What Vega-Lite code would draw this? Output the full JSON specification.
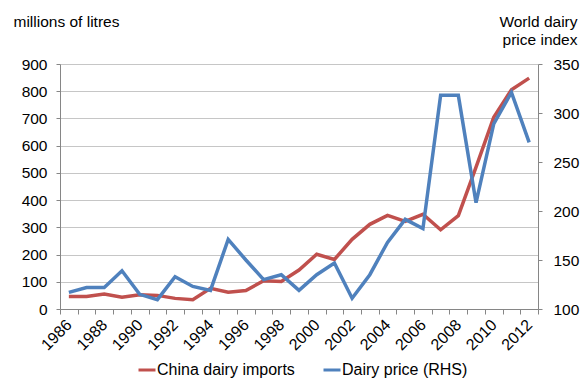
{
  "$schema": "https://vega.github.io/schema/vega-lite/v6.json",
  "width": 478,
  "height": 245,
  "autosize": "none",
  "padding": {"left": 60, "top": 64, "right": 42, "bottom": 69},
  "config": {
    "font": "Liberation Sans",
    "view": {"stroke": null},
    "axis": {"labelFont": "Liberation Sans", "labelFontSize": 15.5, "labelColor": "#000000", "titleFont": "Liberation Sans", "titleColor": "#000000", "titleFontWeight": "normal", "titleFontSize": 15.5, "domainColor": "#868686", "tickColor": "#868686"},
    "legend": {"labelFont": "Liberation Sans", "labelFontSize": 16, "labelColor": "#000000"}
  },
  "data": {
    "values": [
      {"year": 1986, "imports": 46, "price": 117},
      {"year": 1987, "imports": 46, "price": 122},
      {"year": 1988, "imports": 55, "price": 122},
      {"year": 1989, "imports": 43, "price": 139},
      {"year": 1990, "imports": 52, "price": 115},
      {"year": 1991, "imports": 50, "price": 109.5},
      {"year": 1992, "imports": 39, "price": 133},
      {"year": 1993, "imports": 34, "price": 123},
      {"year": 1994, "imports": 76, "price": 119},
      {"year": 1995, "imports": 62, "price": 171},
      {"year": 1996, "imports": 68, "price": 150},
      {"year": 1997, "imports": 104, "price": 130},
      {"year": 1998, "imports": 101, "price": 135},
      {"year": 1999, "imports": 143, "price": 119},
      {"year": 2000, "imports": 201, "price": 135},
      {"year": 2001, "imports": 182, "price": 147},
      {"year": 2002, "imports": 256, "price": 111},
      {"year": 2003, "imports": 311, "price": 135},
      {"year": 2004, "imports": 344, "price": 168},
      {"year": 2005, "imports": 322, "price": 191.5},
      {"year": 2006, "imports": 348, "price": 182},
      {"year": 2007, "imports": 291, "price": 318},
      {"year": 2008, "imports": 343, "price": 318},
      {"year": 2009, "imports": 521, "price": 208.5},
      {"year": 2010, "imports": 704, "price": 289},
      {"year": 2011, "imports": 805, "price": 321},
      {"year": 2012, "imports": 848, "price": 270}
    ]
  },
  "encoding": {
    "x": {
      "field": "year",
      "type": "ordinal",
      "scale": {"type": "band", "paddingInner": 0, "paddingOuter": 0},
      "axis": {
        "title": null,
        "tickBand": "extent",
        "grid": false,
        "labelAngle": -45,
        "labelAlign": "right",
        "labelBaseline": "middle",
        "labelFontSize": 16,
        "labelPadding": 8,
        "labelOverlap": false,
        "tickSize": 5,
        "labelExpr": "datum.value % 2 == 0 ? datum.label : ''"
      }
    },
    "color": {
      "type": "nominal",
      "scale": {"domain": ["China dairy imports", "Dairy price (RHS)"], "range": ["#C0504D", "#4F81BD"]},
      "legend": {
        "title": null,
        "orient": "none",
        "direction": "horizontal",
        "legendX": 77,
        "legendY": 296,
        "symbolType": "stroke",
        "symbolStrokeWidth": 3,
        "symbolSize": 289,
        "labelOffset": 0,
        "columnPadding": 22
      }
    }
  },
  "layer": [
    {
      "mark": {"type": "line", "strokeWidth": 3.5},
      "encoding": {
        "y": {
          "field": "imports",
          "type": "quantitative",
          "scale": {"domain": [0, 900], "nice": false},
          "axis": {
            "values": [0, 100, 200, 300, 400, 500, 600, 700, 800, 900],
            "grid": true,
            "gridColor": "#c6c6c6",
            "tickSize": 4,
            "labelPadding": 9,
            "title": "millions of litres",
            "titleAngle": 0,
            "titleAlign": "left",
            "titleBaseline": "alphabetic",
            "titleX": -47,
            "titleY": -38
          }
        },
        "color": {"datum": "China dairy imports"}
      }
    },
    {
      "mark": {"type": "line", "strokeWidth": 3.5},
      "encoding": {
        "y": {
          "field": "price",
          "type": "quantitative",
          "scale": {"domain": [100, 350], "nice": false},
          "axis": {
            "orient": "right",
            "values": [100, 150, 200, 250, 300, 350],
            "grid": false,
            "tickSize": 4,
            "labelPadding": 11,
            "title": ["World dairy", "price index"],
            "titleAngle": 0,
            "titleAlign": "right",
            "titleBaseline": "alphabetic",
            "titleLineHeight": 18,
            "titleX": 39,
            "titleY": -38
          }
        },
        "color": {"datum": "Dairy price (RHS)"}
      }
    }
  ],
  "resolve": {"scale": {"y": "independent"}}
}
